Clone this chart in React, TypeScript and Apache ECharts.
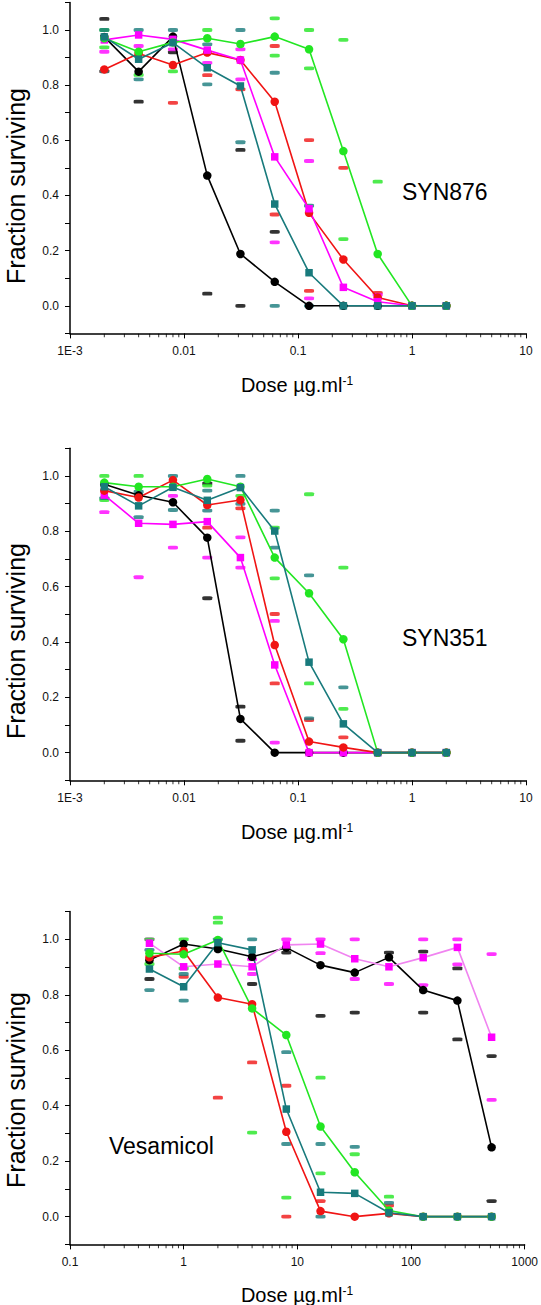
import React, { useEffect, useRef } from "react";
import * as echarts from "echarts";

// ---------- DATA ----------
const dosesSyn = [0.002, 0.004, 0.008, 0.016, 0.03125, 0.0625, 0.125, 0.25, 0.5, 1, 2];
const dosesVes = [0.5, 1, 2, 4, 8, 16, 32, 64, 128, 256, 512];

const synTickLabels = ["1E-3", "0.01", "0.1", "1", "10"];
const vesTickLabels = ["0.1", "1", "10", "100", "1000"];
const yTickLabels = ["0.0", "0.2", "0.4", "0.6", "0.8", "1.0"];

const synDecades = [0.001, 0.01, 0.1, 1];
const vesDecades = [0.1, 1, 10, 100];
const minorMultipliers = [2, 3, 4, 5, 6, 7, 8, 9];

// SYN876 (panel 1) means
const syn876Black = [0.975, 0.849, 0.976, 0.472, 0.188, 0.087, 0, 0, 0, 0, 0];
const syn876Red = [0.857, 0.915, 0.873, 0.918, 0.891, 0.74, 0.337, 0.168, 0.03, 0, 0];
const syn876Magenta = [0.964, 0.982, 0.966, 0.927, 0.891, 0.54, 0.352, 0.067, 0.015, 0, 0];
const syn876Green = [0.97, 0.921, 0.955, 0.97, 0.949, 0.976, 0.93, 0.561, 0.188, 0, 0];
const syn876Teal = [0.975, 0.894, 0.954, 0.863, 0.797, 0.369, 0.12, 0, 0, 0, 0];

// SYN876 replicates [dose, value]
const syn876BlackReps = [[0.002, 1.04], [0.004, 0.74], [0.008, 0.919], [0.016, 0.044], [0.03125, 0.565], [0.03125, 0.0], [0.0625, 0.268]];
const syn876RedReps = [[0.002, 0.85], [0.008, 0.736], [0.016, 0.836], [0.03125, 0.785], [0.0625, 0.942], [0.0625, 0.331], [0.125, 0.601], [0.125, 0.054], [0.25, 0.5], [0.5, 0.047]];
const syn876MagentaReps = [[0.002, 0.921], [0.004, 0.942], [0.008, 0.93], [0.016, 0.881], [0.03125, 0.93], [0.03125, 0.821], [0.0625, 0.23], [0.125, 0.525], [0.125, 0.027], [0.5, 0.04]];
const syn876GreenReps = [[0.002, 1.0], [0.002, 0.937], [0.004, 0.837], [0.008, 0.85], [0.016, 1.0], [0.0625, 1.042], [0.0625, 0.907], [0.125, 1.0], [0.125, 0.861], [0.25, 0.964], [0.25, 0.242], [0.5, 0.45]];
const syn876TealReps = [[0.002, 1.0], [0.002, 0.85], [0.004, 1.0], [0.004, 0.821], [0.008, 1.0], [0.016, 0.948], [0.016, 0.803], [0.03125, 1.0], [0.03125, 0.593], [0.0625, 0.845], [0.0625, 0.0], [0.125, 0.363], [0.125, 0.0]];

// SYN351 (panel 2) means
const syn351Black = [0.97, 0.93, 0.905, 0.777, 0.122, 0, 0, 0, 0, 0, 0];
const syn351Red = [0.947, 0.922, 0.985, 0.895, 0.913, 0.389, 0.04, 0.019, 0, 0, 0];
const syn351Magenta = [0.931, 0.829, 0.825, 0.835, 0.705, 0.317, 0, 0, 0, 0, 0];
const syn351Green = [0.976, 0.961, 0.961, 0.989, 0.961, 0.705, 0.576, 0.41, 0, 0, 0];
const syn351Teal = [0.961, 0.892, 0.959, 0.912, 0.958, 0.801, 0.327, 0.104, 0, 0, 0];

const syn351BlackReps = [[0.016, 0.973], [0.016, 0.558], [0.03125, 0.166], [0.03125, 0.043]];
const syn351RedReps = [[0.016, 0.813], [0.03125, 0.883], [0.0625, 0.501], [0.0625, 0.25], [0.125, 0.118], [0.25, 0.055]];
const syn351MagentaReps = [[0.002, 0.869], [0.004, 0.634], [0.008, 0.928], [0.008, 0.741], [0.016, 0.705], [0.03125, 0.778], [0.03125, 0.669], [0.0625, 0.476], [0.0625, 0.036]];
const syn351GreenReps = [[0.002, 1.0], [0.002, 0.913], [0.004, 1.0], [0.016, 0.965], [0.03125, 0.928], [0.0625, 0.813], [0.0625, 0.63], [0.125, 0.934], [0.125, 0.25], [0.25, 0.669], [0.25, 0.158]];
const syn351TealReps = [[0.002, 0.92], [0.004, 0.943], [0.004, 0.851], [0.008, 1.0], [0.008, 0.877], [0.016, 0.947], [0.016, 0.875], [0.03125, 1.0], [0.03125, 0.899], [0.0625, 0.875], [0.0625, 0.741], [0.125, 0.641], [0.125, 0.124], [0.25, 0.236]];

// Vesamicol (panel 3) means
const vesBlack = [0.925, 0.983, 0.965, 0.937, 0.97, 0.907, 0.88, 0.935, 0.817, 0.779, 0.25];
const vesMagenta = [0.986, 0.901, 0.911, 0.901, 0.98, 0.983, 0.93, 0.901, 0.934, 0.971, 0.647];
const vesRed = [0.935, 0.958, 0.79, 0.766, 0.306, 0.02, 0.0, 0.012, 0, 0, 0];
const vesGreen = [0.95, 0.946, 0.998, 0.751, 0.655, 0.325, 0.16, 0.022, 0, 0, 0];
const vesTeal = [0.893, 0.829, 0.988, 0.962, 0.388, 0.088, 0.084, 0.014, 0, 0, 0];

const vesBlackReps = [[0.5, 0.857], [4, 0.839], [8, 0.952], [16, 0.724], [32, 0.736], [64, 0.952], [128, 0.956], [128, 0.736], [256, 0.895], [256, 0.639], [512, 0.579], [512, 0.056]];
const vesMagentaReps = [[0.5, 1.0], [4, 0.928], [4, 0.875], [8, 1.0], [16, 1.0], [16, 0.95], [32, 1.0], [32, 0.857], [64, 0.839], [128, 1.0], [128, 0.835], [256, 1.0], [256, 0.91], [512, 0.947], [512, 0.421]];
const vesRedReps = [[1, 0.865], [2, 0.429], [4, 0.556], [8, 0.472], [8, 0.0], [16, 0.056], [64, 0.04]];
const vesGreenReps = [[0.5, 1.0], [0.5, 0.911], [1, 1.0], [1, 0.895], [2, 1.078], [2, 1.06], [4, 0.303], [8, 0.069], [16, 0.501], [16, 0.156], [32, 0.225], [64, 0.072]];
const vesTealReps = [[0.5, 0.962], [0.5, 0.817], [1, 0.875], [1, 0.779], [2, 1.0], [4, 1.0], [8, 0.593], [8, 0.262], [16, 0.262], [16, 0.0], [32, 0.252], [64, 0.05]];

const panelNames = ["SYN876", "SYN351", "Vesamicol"];

// ---------- STYLE ----------
const C = {
  black: "#000000",
  red: "#f01414",
  magenta: "#ff00ff",
  violet: "#f084f0",
  teal: "#187a7c",
  green: "#22e622",
};
const FONT = '"Liberation Sans", Arial, Helvetica, sans-serif';
const GRIDS = [
  { top: 2.4, height: 331 },
  { top: 448.3, height: 332 },
  { top: 911.6, height: 332.8 },
];
const LEFT = 70;
const WIDTH = 456;

type Def = { means: number[]; reps: number[][]; color: string; line: string; symbol: string };

function buildOption() {
  const panels: { doses: number[]; min: number; max: number; labels: string[]; decades: number[]; defs: Def[] }[] = [
    {
      doses: dosesSyn, min: 0.001, max: 10, labels: synTickLabels, decades: synDecades,
      defs: [
        { means: syn876Black, reps: syn876BlackReps, color: C.black, line: C.black, symbol: "circle" },
        { means: syn876Red, reps: syn876RedReps, color: C.red, line: C.red, symbol: "circle" },
        { means: syn876Magenta, reps: syn876MagentaReps, color: C.magenta, line: C.magenta, symbol: "rect" },
        { means: syn876Green, reps: syn876GreenReps, color: C.green, line: C.green, symbol: "circle" },
        { means: syn876Teal, reps: syn876TealReps, color: C.teal, line: C.teal, symbol: "rect" },
      ],
    },
    {
      doses: dosesSyn, min: 0.001, max: 10, labels: synTickLabels, decades: synDecades,
      defs: [
        { means: syn351Black, reps: syn351BlackReps, color: C.black, line: C.black, symbol: "circle" },
        { means: syn351Magenta, reps: syn351MagentaReps, color: C.magenta, line: C.magenta, symbol: "rect" },
        { means: syn351Red, reps: syn351RedReps, color: C.red, line: C.red, symbol: "circle" },
        { means: syn351Green, reps: syn351GreenReps, color: C.green, line: C.green, symbol: "circle" },
        { means: syn351Teal, reps: syn351TealReps, color: C.teal, line: C.teal, symbol: "rect" },
      ],
    },
    {
      doses: dosesVes, min: 0.1, max: 1000, labels: vesTickLabels, decades: vesDecades,
      defs: [
        { means: vesBlack, reps: vesBlackReps, color: C.black, line: C.black, symbol: "circle" },
        { means: vesMagenta, reps: vesMagentaReps, color: C.magenta, line: C.violet, symbol: "rect" },
        { means: vesRed, reps: vesRedReps, color: C.red, line: C.red, symbol: "circle" },
        { means: vesGreen, reps: vesGreenReps, color: C.green, line: C.green, symbol: "circle" },
        { means: vesTeal, reps: vesTealReps, color: C.teal, line: C.teal, symbol: "rect" },
      ],
    },
  ];

  const grid: any[] = [];
  const xAxis: any[] = [];
  const yAxis: any[] = [];
  const series: any[] = [];

  panels.forEach((p, i) => {
    grid.push({ left: LEFT, width: WIDTH, top: GRIDS[i].top, height: GRIDS[i].height, containLabel: false });
    xAxis.push({
      type: "log",
      logBase: 10,
      gridIndex: i,
      min: p.min,
      max: p.max,
      splitLine: { show: false },
      axisLine: { onZero: false, lineStyle: { color: "#000", width: 1.5 } },
      axisTick: { show: true, inside: false, length: 5, lineStyle: { color: "#000", width: 1 } },
      axisLabel: {
        margin: 12,
        fontFamily: FONT,
        fontSize: 12,
        color: "#111",
        formatter: (v: number) => {
          const k = Math.round(Math.log10(v) - Math.log10(p.min));
          return p.labels[k] ?? "";
        },
      },
    });
    yAxis.push({
      type: "value",
      gridIndex: i,
      min: -0.1,
      max: 1.1,
      interval: 0.1,
      splitLine: { show: false },
      axisLine: { show: true, onZero: false, lineStyle: { color: "#000", width: 1.5 } },
      axisTick: { show: true, inside: false, length: 5, lineStyle: { color: "#000", width: 1 } },
      axisLabel: {
        margin: 11,
        fontFamily: FONT,
        fontSize: 12,
        color: "#111",
        formatter: (v: number) => {
          const t = Math.round(v * 10);
          if (t < 0 || t > 10 || t % 2 !== 0) return "";
          return yTickLabels[t / 2];
        },
      },
    });

    // log minor ticks (2..9 of every decade) drawn through the axis scale
    const minorData: number[][] = [];
    p.decades.forEach((d) => minorMultipliers.forEach((m) => minorData.push([m * d, -0.1])));
    series.push({
      type: "scatter",
      xAxisIndex: i,
      yAxisIndex: i,
      data: minorData,
      symbol: "rect",
      symbolSize: [1, 3.5],
      symbolOffset: [0, 2.2],
      itemStyle: { color: "#000" },
      silent: true,
      clip: false,
      z: 1,
    });

    p.defs.forEach((d) => {
      series.push({
        type: "scatter",
        xAxisIndex: i,
        yAxisIndex: i,
        data: d.reps,
        symbol: "roundRect",
        symbolSize: [10, 3.8],
        itemStyle: { color: d.color },
        silent: true,
        clip: false,
        z: 2,
      });
    });
    p.defs.forEach((d) => {
      series.push({
        type: "line",
        xAxisIndex: i,
        yAxisIndex: i,
        data: p.doses.map((x, j) => [x, d.means[j]]),
        symbol: d.symbol,
        symbolSize: d.symbol === "circle" ? 8.5 : 7.5,
        showAllSymbol: true,
        lineStyle: { color: d.line, width: 1.6 },
        itemStyle: { color: d.color, borderWidth: 0 },
        silent: true,
        clip: false,
        z: 3,
      });
    });
  });

  const yTitleCenters = [186, 641, 1090];
  const xTitleCenters = [385, 832, 1295];
  const annot = [
    { x: 402, y: 192 },
    { x: 402, y: 638 },
    { x: 109, y: 1146 },
  ];
  const graphic: any[] = [];
  for (let i = 0; i < 3; i++) {
    graphic.push({
      type: "text",
      x: 16,
      y: yTitleCenters[i],
      rotation: Math.PI / 2,
      silent: true,
      style: {
        text: "Fraction surviving",
        fontFamily: FONT,
        fontSize: 25,
        fill: "#000",
        align: "center",
        verticalAlign: "middle",
      },
    });
    graphic.push({
      type: "text",
      x: 297,
      y: xTitleCenters[i],
      silent: true,
      style: {
        text: "{a|Dose \u00b5g.ml}{b|-1}",
        align: "center",
        verticalAlign: "middle",
        rich: {
          a: { fontFamily: FONT, fontSize: 20, fill: "#000", color: "#000" },
          b: { fontFamily: FONT, fontSize: 12, fill: "#000", color: "#000", verticalAlign: "top" },
        },
      },
    });
    graphic.push({
      type: "text",
      x: annot[i].x,
      y: annot[i].y,
      silent: true,
      style: {
        text: panelNames[i],
        fontFamily: FONT,
        fontSize: 23,
        fill: "#000",
        align: "left",
        verticalAlign: "middle",
      },
    });
  }

  return {
    animation: false,
    backgroundColor: "#ffffff",
    grid,
    xAxis,
    yAxis,
    series,
    graphic,
  };
}

export default function App() {
  const ref = useRef<HTMLDivElement>(null);
  useEffect(() => {
    if (!ref.current) return;
    const chart = echarts.init(ref.current, undefined, { renderer: "svg" });
    chart.setOption(buildOption() as any);
    return () => chart.dispose();
  }, []);
  return (
    <div
      ref={ref}
      style={{ position: "fixed", left: 0, top: 0, width: 541, height: 1305, background: "#fff" }}
    />
  );
}
